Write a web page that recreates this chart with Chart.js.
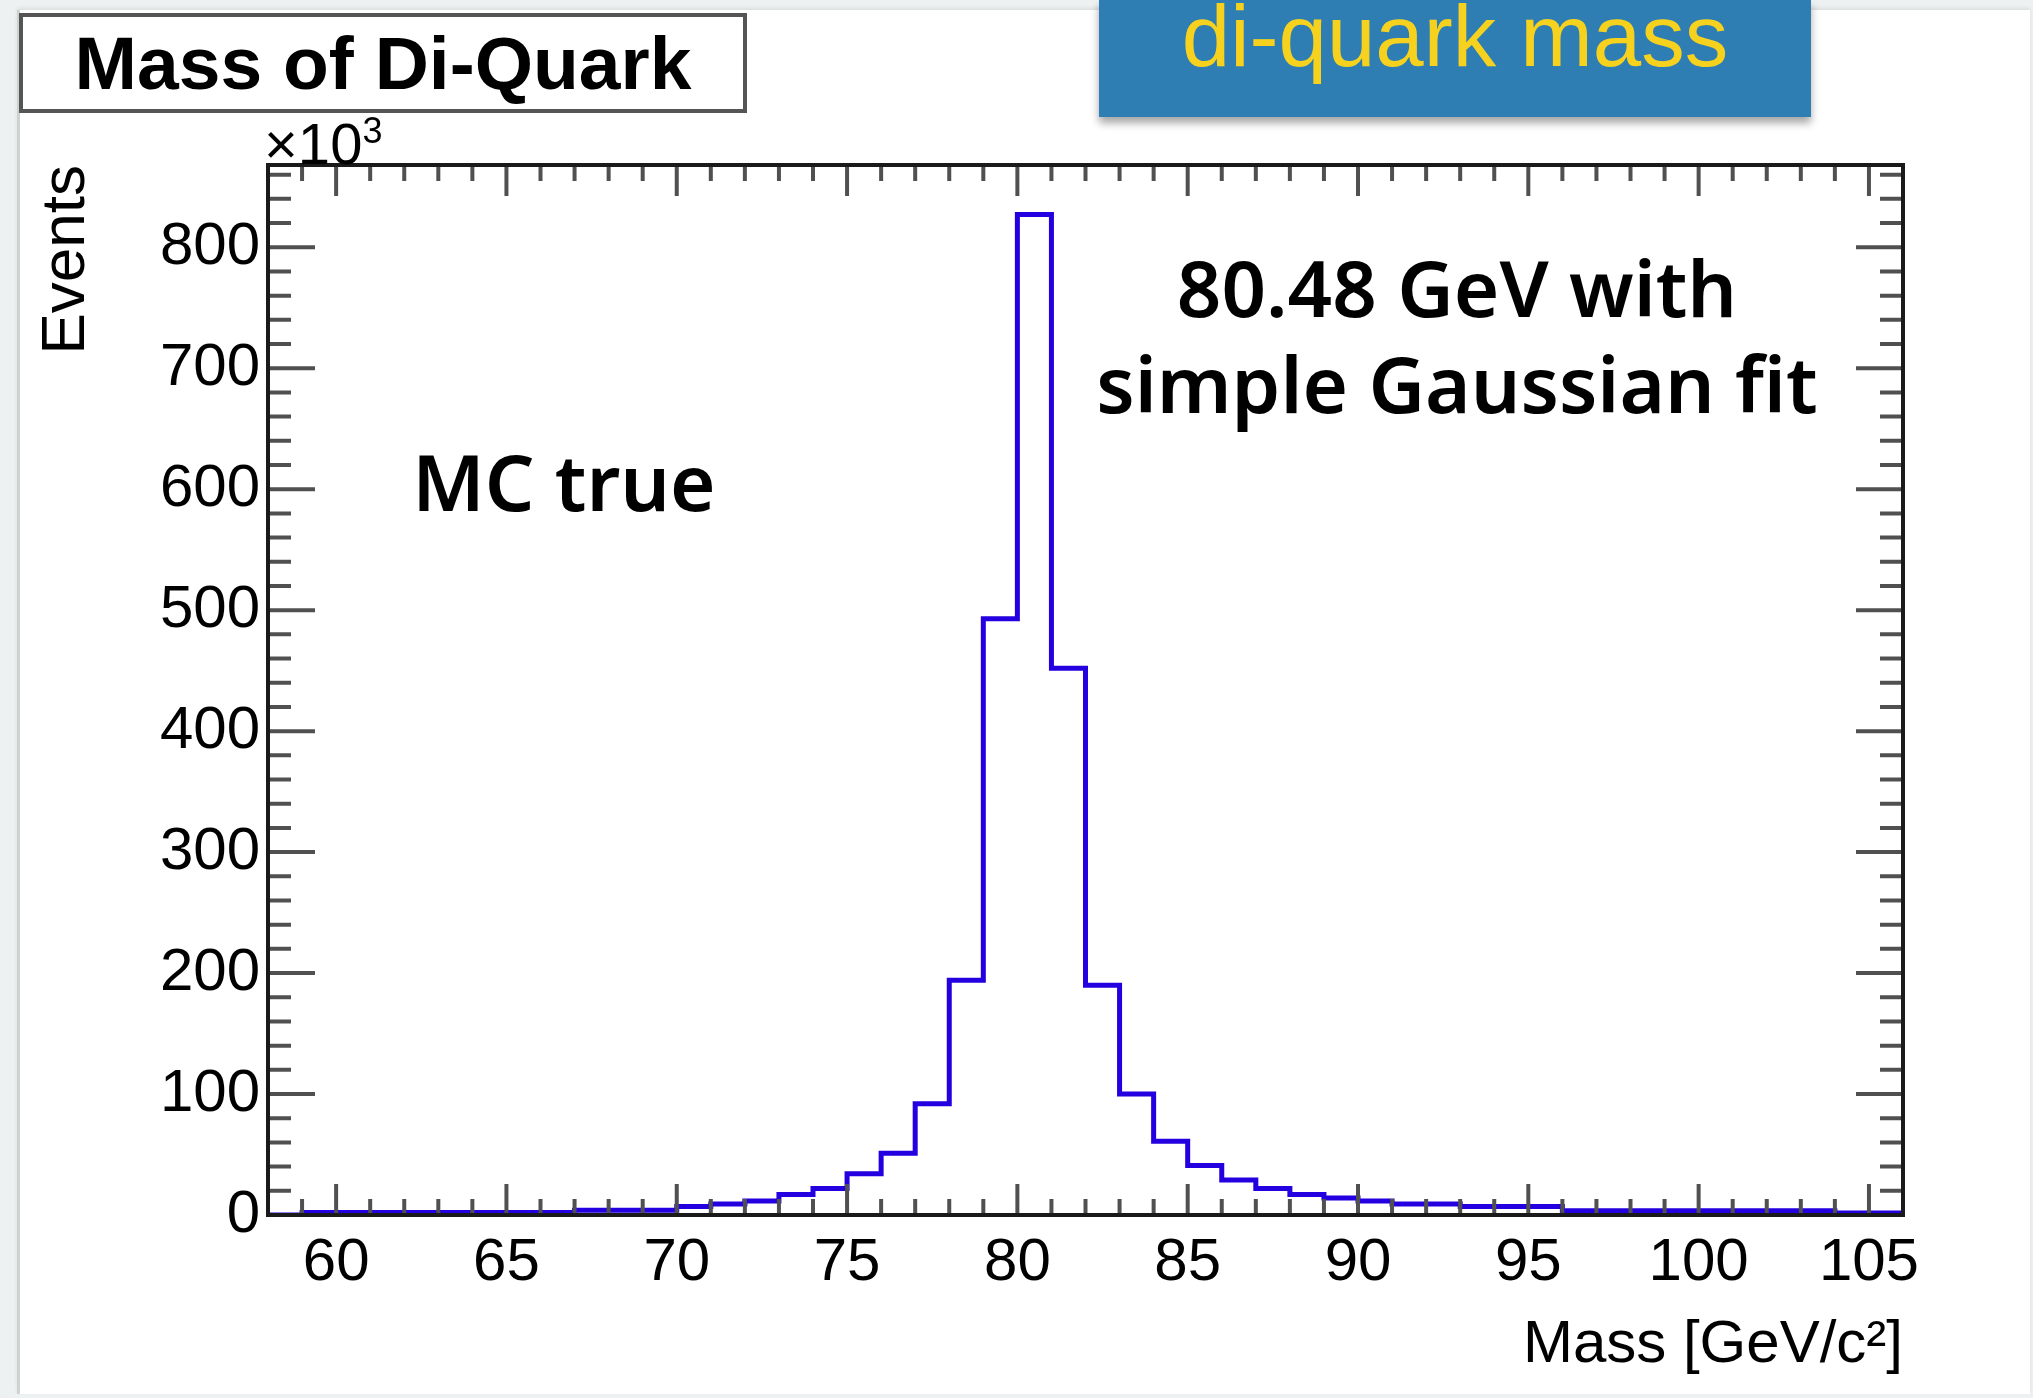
<!DOCTYPE html>
<html>
<head>
<meta charset="utf-8">
<title>Mass of Di-Quark</title>
<script src="https://cdn.jsdelivr.net/npm/chart.js@4.4.1/dist/chart.umd.min.js"></script>
<style>
  html, body { margin: 0; padding: 0; }
  body { width: 2033px; height: 1398px; background: #eef1f1; position: relative; overflow: hidden; }
  .sheet { position: absolute; left: 17px; top: 10px; width: 2013px; height: 1384px; background: #fff;
           border-left: 3px solid #cfd2d2; box-sizing: border-box; box-shadow: 0 -2px 4px rgba(0,0,0,0.08); }
  #hist { position: absolute; left: 0; top: 0; }
  .title-box { position: absolute; left: 19px; top: 13px; width: 728px; height: 100px; box-sizing: border-box;
               border: 4px solid #555; background: #fff; display: flex; align-items: center; justify-content: center;
               font: bold 75px "Liberation Sans", Arial, sans-serif; color: #000; }
  .tag { position: absolute; left: 1099px; top: 0; width: 712px; height: 117px; background: #2e7db3;
         box-shadow: 0 6px 8px rgba(0,0,0,0.35); text-align: center; color: #f6d21f;
         font: 87px "Liberation Sans", Arial, sans-serif; line-height: 87px; }
  .tag span { position: relative; top: -8px; }
  .note { position: absolute; color: #000; font: 600 78px "Noto Sans", Lato, sans-serif; text-align: center; white-space: nowrap; }
</style>
</head>
<body>
<div class="sheet"></div>
<canvas id="hist" width="2033" height="1398"></canvas>
<div class="title-box">Mass of Di-Quark</div>
<div class="tag"><span>di-quark mass</span></div>
<div class="note" style="left:1057px; top:239px; width:800px; line-height:96px;">80.48 GeV with<br>simple Gaussian fit</div>
<div class="note" style="left:364px; top:433px; width:400px; line-height:96px;">MC true</div>

<script>
// histogram binning (GeV/c^2), 1 GeV bins from 58 to 106
const binLow = [58, 59, 60, 61, 62, 63, 64, 65, 66, 67, 68, 69, 70, 71, 72, 73,
                74, 75, 76, 77, 78, 79, 80, 81, 82, 83, 84, 85, 86, 87, 88, 89,
                90, 91, 92, 93, 94, 95, 96, 97, 98, 99, 100, 101, 102, 103, 104, 105];
const xMin = 58;
const xMax = 106;

// events per bin, in units of 10^3
const counts = [0, 2, 2, 2, 2, 2, 2, 2, 2, 4, 4, 4, 7, 9, 11.5, 17,
                22, 34, 51, 92, 194, 493, 827, 452, 190, 100, 61, 41, 29, 22, 17, 14,
                11.5, 9, 9, 7, 7, 7, 3.6, 3.6, 3.6, 3.6, 3.6, 3.6, 3.6, 3.6, 1.7, 1.7];

const yMax = 868;
const xTickValues = [60, 65, 70, 75, 80, 85, 90, 95, 100, 105];
const yTickValues = [0, 100, 200, 300, 400, 500, 600, 700, 800];
const xMinorStep = 1;
const yMinorStep = 20;

// step outline: one point per low edge, last point closes the final bin
const points = binLow.map((x, i) => ({ x: x, y: counts[i] }));
points.push({ x: xMax, y: counts[counts.length - 1] });

const axisFont = { family: '"Liberation Sans", Arial, sans-serif', size: 60 };

// ROOT style frame: ticks on all four sides pointing inwards, exponent above y axis
const rootFrame = {
    id: 'rootFrame',
    afterDatasetsDraw(chart) {
        const { ctx, chartArea: a, scales: { x, y } } = chart;
        ctx.save();
        ctx.strokeStyle = '#505050';
        ctx.lineWidth = 4;
        ctx.beginPath();
        for (let v = xMin + xMinorStep; v < xMax; v += xMinorStep) {
            const px = x.getPixelForValue(v);
            const len = v % 5 === 0 ? 31 : 16;
            ctx.moveTo(px, a.bottom); ctx.lineTo(px, a.bottom - len);
            ctx.moveTo(px, a.top); ctx.lineTo(px, a.top + len);
        }
        for (let v = yMinorStep; v < yMax; v += yMinorStep) {
            const py = y.getPixelForValue(v);
            const len = v % 100 === 0 ? 47 : 23;
            ctx.moveTo(a.left, py); ctx.lineTo(a.left + len, py);
            ctx.moveTo(a.right, py); ctx.lineTo(a.right - len, py);
        }
        ctx.stroke();

        ctx.strokeStyle = '#1a1a1a';
        ctx.lineWidth = 4;
        ctx.strokeRect(a.left, a.top, a.right - a.left, a.bottom - a.top);

        // x10^3 multiplier
        ctx.fillStyle = '#000';
        ctx.textBaseline = 'alphabetic';
        ctx.textAlign = 'left';
        ctx.font = '58px "Liberation Sans", Arial, sans-serif';
        ctx.fillText('\u00d710', a.left - 4, a.top - 1);
        const w = ctx.measureText('\u00d710').width;
        ctx.font = '36px "Liberation Sans", Arial, sans-serif';
        ctx.fillText('3', a.left - 4 + w, a.top - 22);
        ctx.restore();
    }
};

const ctx = document.getElementById('hist').getContext('2d');
new Chart(ctx, {
    type: 'line',
    data: {
        datasets: [{
            data: points,
            stepped: 'before',
            borderColor: '#2400e0',
            borderWidth: 5,
            pointRadius: 0,
            fill: false
        }]
    },
    options: {
        responsive: false,
        animation: false,
        layout: { padding: { top: 165, right: 130, left: 0, bottom: 0 } },
        plugins: { legend: { display: false }, tooltip: { enabled: false } },
        scales: {
            x: {
                type: 'linear',
                min: xMin,
                max: xMax,
                grid: { display: false, drawTicks: false },
                border: { display: false },
                afterFit: s => { s.height = 183; },
                afterBuildTicks: s => { s.ticks = xTickValues.map(v => ({ value: v })); },
                ticks: { font: axisFont, color: '#000', padding: 12, maxRotation: 0, autoSkip: false },
                title: {
                    display: true, text: 'Mass [GeV/c\u00b2]', align: 'end', color: '#000',
                    font: axisFont, padding: { top: 0, bottom: 17 }
                }
            },
            y: {
                type: 'linear',
                min: 0,
                max: yMax,
                grid: { display: false, drawTicks: false },
                border: { display: false },
                afterFit: s => { s.width = 268; },
                afterBuildTicks: s => { s.ticks = yTickValues.map(v => ({ value: v })); },
                ticks: { font: axisFont, color: '#000', padding: 8, autoSkip: false },
                title: {
                    display: true, text: 'Events', align: 'end', color: '#000',
                    font: { family: axisFont.family, size: 62 }, padding: { top: 30, bottom: 0 }
                }
            }
        }
    },
    plugins: [rootFrame]
});
</script>
</body>
</html>
